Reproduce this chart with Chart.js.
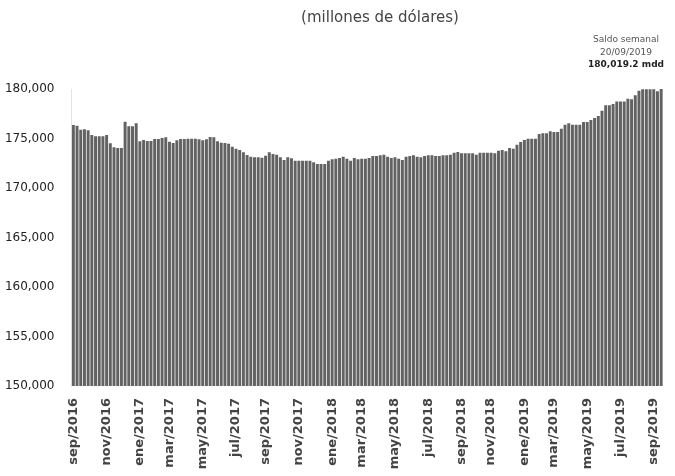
<!DOCTYPE html>
<html>
<head>
<meta charset="utf-8">
<script src="https://cdn.jsdelivr.net/npm/chart.js@4.4.0/dist/chart.umd.min.js"></script>
<style>
  html, body { margin: 0; padding: 0; background: #fff; }
  #wrap { position: relative; width: 675px; height: 476px; overflow: hidden; }
  #title { position: absolute; left: 380px; top: 8px; transform: translateX(-50%);
           font-family: "DejaVu Sans", sans-serif; font-size: 15px; color: #444; white-space: nowrap; }
  #note { position: absolute; left: 582px; top: 33px; width: 88px; text-align: center;
          font-family: "DejaVu Sans", sans-serif; font-size: 9px; line-height: 12.5px; color: #555; }
  #note b { color: #222; }
</style>
</head>
<body>
<div id="wrap">
  <canvas id="c" width="675" height="476"></canvas>
  <div id="title">(millones de dólares)</div>
  <div id="note">Saldo semanal<br>20/09/2019<br><b>180,019.2 mdd</b></div>
</div>
<script>
// Weekly balance of international reserves (millions of USD), first week: 2016-09-02
const startDate = '2016-09-02';
const reserves = [
  176360, 176293, 175889, 175923, 175822, 175351, 175216, 175216, 175216, 175351,
  174509, 174105, 174038, 174038, 176697, 176226, 176226, 176529, 174711, 174846,
  174745, 174745, 174947, 174947, 175048, 175115, 174677, 174543, 174812, 174947,
  174947, 174980, 174980, 174980, 174913, 174812, 174913, 175149, 175115, 174711,
  174576, 174543, 174475, 174172, 173970, 173836, 173600, 173331, 173162, 173095,
  173095, 173061, 173263, 173600, 173432, 173364, 173095, 172826, 173095, 172994,
  172758, 172758, 172758, 172758, 172758, 172590, 172422, 172422, 172422, 172758,
  172893, 172960, 173028, 173162, 172960, 172758, 173028, 172893, 172960, 172960,
  173028, 173230, 173230, 173297, 173364, 173162, 173028, 173095, 172960, 172826,
  173162, 173230, 173297, 173162, 173095, 173230, 173297, 173297, 173230, 173230,
  173297, 173297, 173364, 173566, 173634, 173499, 173499, 173499, 173499, 173364,
  173566, 173566, 173566, 173566, 173499, 173768, 173836, 173700, 174038, 173970,
  174374, 174644, 174846, 174980, 174980, 174980, 175452, 175519, 175519, 175720,
  175654, 175654, 175990, 176394, 176529, 176394, 176394, 176394, 176664, 176664,
  176866, 177068, 177270, 177808, 178347, 178347, 178482, 178750, 178750, 178750,
  179020, 178953, 179357, 179828, 179963, 179963, 179963, 179963, 179761, 180019.2
];
const monthNames = ['ene','feb','mar','abr','may','jun','jul','ago','sep','oct','nov','dic'];
const labelledMonths = ['ene','mar','may','jul','sep','nov'];
const yTicks = { min: 150000, max: 180000, step: 5000 };

// categories: one per week
const weeks = reserves.map((_, i) => {
  const d = new Date(startDate + 'T00:00:00Z');
  d.setUTCDate(d.getUTCDate() + 7 * i);
  return d;
});
const categories = weeks.map(d => d.toISOString().slice(0, 10));

function tickLabel(i) {
  const d = weeks[i];
  const m = monthNames[d.getUTCMonth()];
  if (d.getUTCDate() <= 7 && labelledMonths.includes(m)) return m + '/' + d.getUTCFullYear();
  return null;
}

new Chart(document.getElementById('c'), {
  type: 'bar',
  data: {
    labels: categories,
    datasets: [{
      data: reserves,
      backgroundColor: '#626262',
      borderWidth: 0,
      barPercentage: 0.8,
      categoryPercentage: 1.0
    }]
  },
  options: {
    responsive: false,
    animation: false,
    layout: { padding: { top: 89, right: 12, left: 0, bottom: 0 } },
    plugins: { legend: { display: false }, tooltip: { enabled: false }, title: { display: false } },
    scales: {
      x: {
        grid: { display: false },
        border: { display: false },
        afterFit: s => { s.height = 90; },
        ticks: {
          autoSkip: false,
          minRotation: 90,
          maxRotation: 90,
          padding: 4,
          color: '#444',
          font: { family: 'DejaVu Sans', size: 13, weight: 'bold' },
          callback: (v, i) => tickLabel(i)
        }
      },
      y: {
        min: yTicks.min,
        max: yTicks.max,
        grid: { display: false },
        border: { display: true, color: '#e4e4e4', width: 1 },
        afterFit: s => { s.width = 71.5; },
        ticks: {
          stepSize: yTicks.step,
          padding: 9,
          color: '#222',
          font: { family: 'DejaVu Sans', size: 12 },
          callback: v => v.toLocaleString('en-US')
        }
      }
    }
  }
});
</script>
</body>
</html>
